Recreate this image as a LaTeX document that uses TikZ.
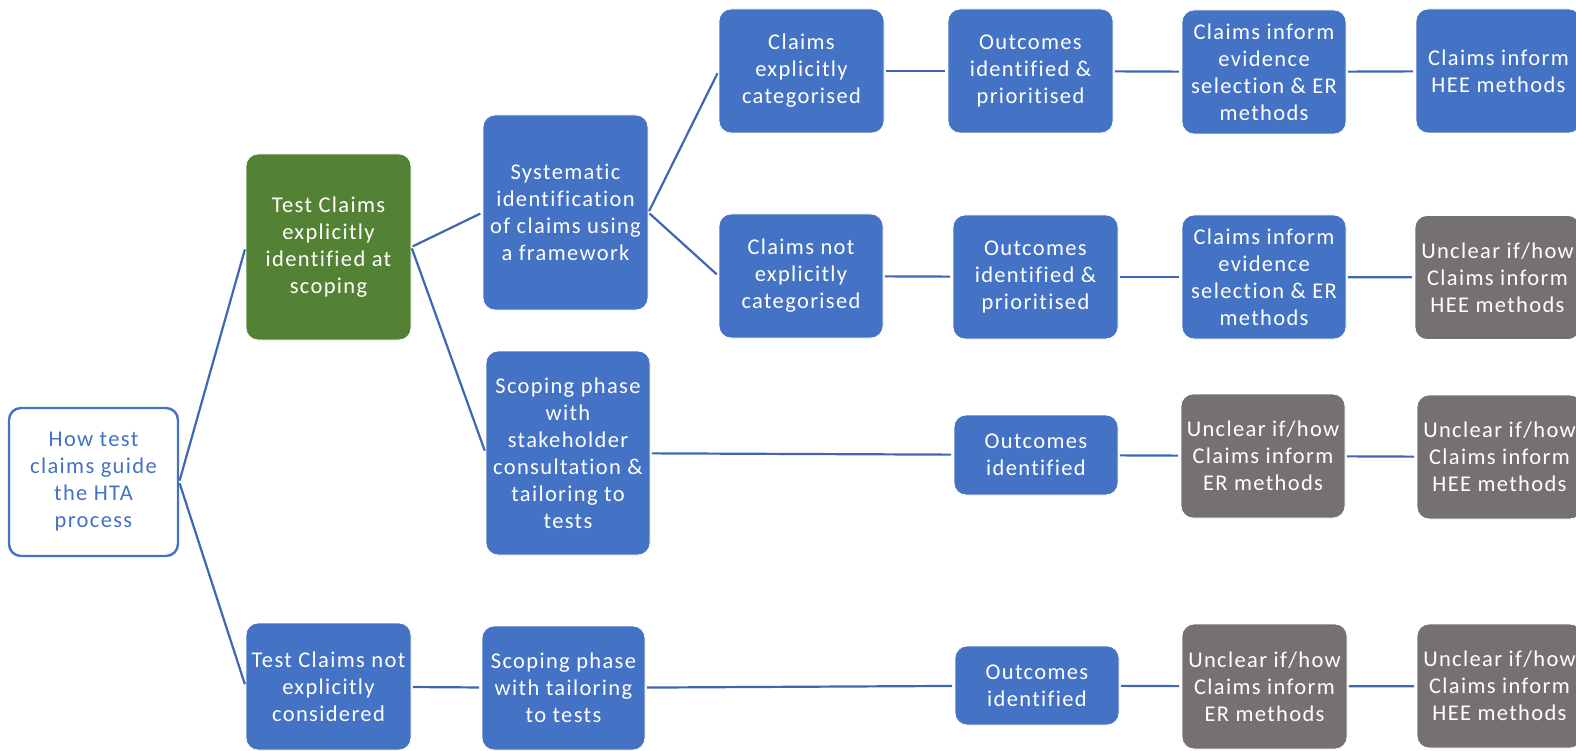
\documentclass[tikz,border=0pt]{standalone}
\usepackage{fontspec}
\setmainfont{Carlito}[Ligatures=NoCommon, LetterSpace=6]
\definecolor{boxblue}{HTML}{4472C4}
\definecolor{boxgreen}{HTML}{548235}
\definecolor{boxgrey}{HTML}{767171}
\definecolor{linkblue}{HTML}{3F66B5}
\begin{document}
\begin{tikzpicture}[x=1pt, y=-1pt,
  card/.style={rectangle, rounded corners=12pt, align=center, inner sep=2pt,
    minimum width=165pt, minimum height=124pt, draw=white, line width=0.8pt,
    text=white, font=\fontsize{22.5}{27}\selectfont},
  bluecard/.style={card, fill=boxblue},
  greencard/.style={card, fill=boxgreen},
  greycard/.style={card, fill=boxgrey},
  rootcard/.style={card, fill=white, draw=boxblue, line width=2.4pt, text=boxblue},
  link/.style={draw=linkblue, line width=2.2pt, shorten <=1.5pt, shorten >=2.5pt}]
\useasboundingbox (0,0) rectangle (1576,751);
\clip (0,0) rectangle (1576,751);

% root and first branching level
\node[rootcard, minimum width=169pt, minimum height=148pt] (root) at (93.5,482) {How test\\claims guide\\the HTA\\process};
\node[greencard, minimum height=186pt] (expl) at (328.5,247) {Test Claims\\explicitly\\identified at\\scoping};
\node[bluecard, minimum height=127pt] (notc) at (328.5,686.5) {Test Claims not\\explicitly\\considered};

% second level
\node[bluecard, minimum height=195pt] (sys) at (565.5,212.5) {Systematic\\identification\\of claims using\\a framework};
\node[bluecard, minimum width=164pt, minimum height=204pt] (stake) at (568,453) {Scoping phase\\with\\stakeholder\\consultation \&\\tailoring to\\tests};
\node[bluecard, minimum width=163pt] (tail) at (563.5,688) {Scoping phase\\with tailoring\\to tests};

% row 1
\node[bluecard] (cat1) at (801.5,71) {Claims\\explicitly\\categorised};
\node[bluecard] (out1) at (1030.5,71) {Outcomes\\identified \&\\prioritised};
\node[bluecard, minimum width=164pt] (ev1) at (1264,72) {Claims inform\\evidence\\selection \& ER\\methods};
\node[bluecard] (hee1) at (1498.5,71) {Claims inform\\HEE methods};

% row 2
\node[bluecard, minimum width=164pt] (cat2) at (801,276) {Claims not\\explicitly\\categorised};
\node[bluecard] (out2) at (1035.5,277) {Outcomes\\identified \&\\prioritised};
\node[bluecard, minimum width=164pt] (ev2) at (1264,277) {Claims inform\\evidence\\selection \& ER\\methods};
\node[greycard] (hee2) at (1497.5,277.5) {Unclear if/how\\Claims inform\\HEE methods};

% row 3
\node[bluecard, minimum width=164pt, minimum height=80pt] (out3) at (1036,455) {Outcomes\\identified};
\node[greycard, minimum width=164pt] (er3) at (1263,456) {Unclear if/how\\Claims inform\\ER methods};
\node[greycard] (hee3) at (1499.5,457) {Unclear if/how\\Claims inform\\HEE methods};

% row 4
\node[bluecard, minimum width=164pt, minimum height=79pt] (out4) at (1037,685.5) {Outcomes\\identified};
\node[greycard, minimum height=125pt] (er4) at (1264.5,686.5) {Unclear if/how\\Claims inform\\ER methods};
\node[greycard] (hee4) at (1499.5,686) {Unclear if/how\\Claims inform\\HEE methods};

% connectors
\draw[link] (root.east) -- (expl.west);
\draw[link] (root.east) -- (notc.west);
\draw[link] (expl.east) -- (sys.west);
\draw[link] (expl.east) -- (stake.west);
\draw[link] (sys.east) -- (cat1.west);
\draw[link] (sys.east) -- (cat2.west);
\draw[link] (cat1) -- (out1);
\draw[link] (out1) -- (ev1);
\draw[link] (ev1) -- (hee1);
\draw[link] (cat2) -- (out2);
\draw[link] (out2) -- (ev2);
\draw[link] (ev2) -- (hee2);
\draw[link] (stake) -- (out3);
\draw[link] (out3) -- (er3);
\draw[link] (er3) -- (hee3);
\draw[link] (notc) -- (tail);
\draw[link] (tail) -- (out4);
\draw[link] (out4) -- (er4);
\draw[link] (er4) -- (hee4);
\end{tikzpicture}
\end{document}
